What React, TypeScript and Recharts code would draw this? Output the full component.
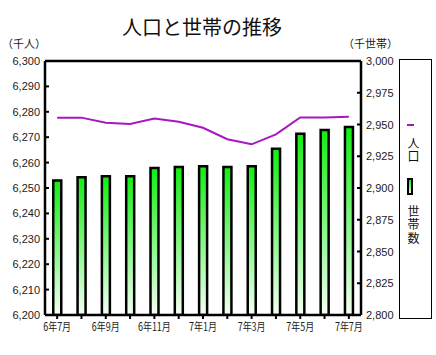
import React from 'react';
import { ComposedChart, Bar, Line, XAxis, YAxis, Legend, ReferenceLine } from 'recharts';

const months = ['6年7月', '6年8月', '6年9月', '6年10月', '6年11月', '6年12月', '7年1月', '7年2月', '7年3月', '7年4月', '7年5月', '7年6月', '7年7月'];
const population = [6277.7, 6277.7, 6275.7, 6275.2, 6277.4, 6276.1, 6273.7, 6269.2, 6267.2, 6271.1, 6277.8, 6277.8, 6278.1];
const households = [2906, 2908.5, 2909.3, 2909.3, 2915.7, 2916.5, 2917.2, 2916.5, 2917.2, 2931, 2942.7, 2945.7, 2948];
const leftTicks = [6200, 6210, 6220, 6230, 6240, 6250, 6260, 6270, 6280, 6290, 6300];
const rightTicks = [2800, 2825, 2850, 2875, 2900, 2925, 2950, 2975, 3000];
const shownMonths = ['6年7月', '6年9月', '6年11月', '7年1月', '7年3月', '7年5月', '7年7月'];
const title = '人口と世帯の推移';
const leftUnit = '（千人）';
const rightUnit = '（千世帯）';
const popName = '人口';
const hhName = '世帯数';

const data = months.map((m, i) => ({ month: m, population: population[i], households: households[i] }));

const NUM_FONT = '"Liberation Sans", Arial, sans-serif';
const JP_FONT = '"Noto Sans CJK JP", "Noto Sans", sans-serif';
const LINE_COLOR = '#a817c0';
const fmt = (v: number) => v.toLocaleString('en-US');

const LeftTick = (props: any) => {
  const { x, y, payload } = props;
  const axisX = x + 5;
  return (
    <g>
      <line x1={axisX} x2={axisX + 4} y1={y} y2={y} stroke="#000" strokeWidth={2} />
      <text x={x} y={y} dy={4} textAnchor="end" fontSize={11} fontFamily={NUM_FONT} fill="#222">
        {fmt(payload.value)}
      </text>
    </g>
  );
};

const RightTick = (props: any) => {
  const { x, y, payload } = props;
  const axisX = x - 5;
  return (
    <g>
      <line x1={axisX - 4} x2={axisX} y1={y} y2={y} stroke="#000" strokeWidth={2} />
      <text x={x} y={y} dy={4} textAnchor="start" fontSize={11} fontFamily={NUM_FONT} fill="#222">
        {fmt(payload.value)}
      </text>
    </g>
  );
};

const XTick = (props: any) => {
  const { x, y, payload } = props;
  if (!shownMonths.includes(payload.value)) return <g />;
  return (
    <g transform={`translate(${x},${y + 10}) scale(0.78,1)`}>
      <text x={0} y={0} textAnchor="middle" fontSize={11.5} fontFamily={JP_FONT} fill="#222">
        {payload.value}
      </text>
    </g>
  );
};

const renderLegend = (props: any) => {
  const payload = [...(props.payload || [])];
  const lineItem = payload.find((p: any) => p.dataKey === 'population');
  const barItem = payload.find((p: any) => p.dataKey === 'households');
  const vtext = (s: string, top: number) => (
    <div
      style={{
        position: 'absolute',
        left: 4,
        top,
        width: 18,
        display: 'flex',
        justifyContent: 'center',
      }}
    >
      <span style={{ writingMode: 'vertical-rl', fontSize: 12, lineHeight: '14px', letterSpacing: 1.5, color: '#111' }}>{s}</span>
    </div>
  );
  return (
    <div style={{ position: 'relative', width: 33, height: 260, border: '1px solid #000', boxSizing: 'border-box', background: '#fff', fontFamily: JP_FONT }}>
      {lineItem && (
        <>
          <div style={{ position: 'absolute', left: 7, top: 64, width: 7, height: 1.5, background: lineItem.color }} />
          {vtext(lineItem.value, 77)}
        </>
      )}
      {barItem && (
        <>
          <div style={{ position: 'absolute', left: 7, top: 118, width: 6, height: 17, boxSizing: 'border-box', border: '2px solid #000', background: 'linear-gradient(#11ee11, #d8ffd8)' }} />
          {vtext(barItem.value, 145)}
        </>
      )}
    </div>
  );
};

export default function App() {
  return (
    <div style={{ position: 'absolute', left: 0, top: 0, width: 436, height: 355, background: '#fff' }}>
      <div style={{ position: 'absolute', left: 0, top: 15, width: 404, textAlign: 'center', fontFamily: JP_FONT, fontSize: 20, lineHeight: '24px', color: '#111' }}>
        {title}
      </div>
      <div style={{ position: 'absolute', left: 2, top: 36, fontFamily: JP_FONT, fontSize: 11, lineHeight: '14px', color: '#222' }}>{leftUnit}</div>
      <div style={{ position: 'absolute', left: 343, top: 36, fontFamily: JP_FONT, fontSize: 11, lineHeight: '14px', color: '#222' }}>{rightUnit}</div>
      <ComposedChart width={436} height={355} data={data} margin={{ top: 61, right: 39, bottom: 0, left: 0 }} style={{ position: 'absolute', left: 0, top: 0 }} barCategoryGap="34%">
        <defs>
          <linearGradient id="barGrad" x1="0" y1="0" x2="0" y2="1">
            <stop offset="0%" stopColor="#11ee11" />
            <stop offset="100%" stopColor="#f4fff4" />
          </linearGradient>
        </defs>
        <XAxis
          dataKey="month"
          interval={0}
          height={40}
          tickSize={4}
          tickMargin={2}
          tickLine={{ stroke: '#000', strokeWidth: 2 }}
          axisLine={{ stroke: '#000', strokeWidth: 2.5 }}
          tick={<XTick />}
        />
        <YAxis
          yAxisId="left"
          orientation="left"
          domain={[6200, 6300]}
          ticks={leftTicks}
          width={45}
          tickSize={0}
          tickMargin={5}
          tickLine={false}
          axisLine={{ stroke: '#000', strokeWidth: 2.5 }}
          tick={<LeftTick />}
          allowDataOverflow
        />
        <YAxis
          yAxisId="right"
          orientation="right"
          domain={[2800, 3000]}
          ticks={rightTicks}
          width={36}
          tickSize={0}
          tickMargin={5}
          tickLine={false}
          axisLine={{ stroke: '#000', strokeWidth: 2.5 }}
          tick={<RightTick />}
          allowDataOverflow
        />
        <ReferenceLine yAxisId="left" y={6300} stroke="#000" strokeWidth={2.5} ifOverflow="extendDomain" />
        <Bar yAxisId="right" dataKey="households" name={hhName} fill="url(#barGrad)" stroke="#000" strokeWidth={2.5} isAnimationActive={false} />
        <Line yAxisId="left" dataKey="population" name={popName} type="linear" stroke={LINE_COLOR} strokeWidth={2} dot={false} isAnimationActive={false} />
        <Legend
          layout="vertical"
          align="center"
          verticalAlign="middle"
          content={renderLegend}
          wrapperStyle={{ position: 'absolute', left: 399, top: 59, width: 33, height: 260, margin: 0 }}
        />
      </ComposedChart>
    </div>
  );
}
